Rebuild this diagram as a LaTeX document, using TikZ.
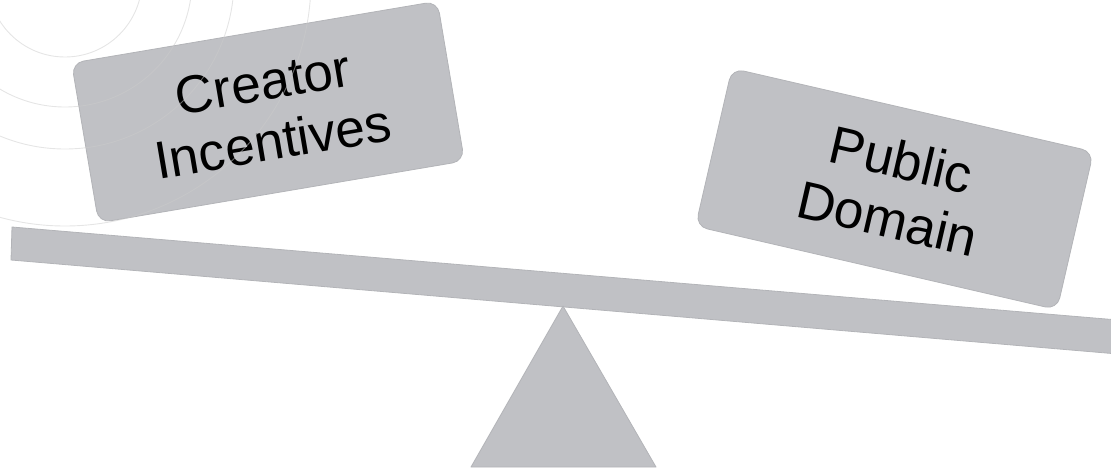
\documentclass[tikz,border=0pt]{standalone}
\usepackage{fontspec}
\setmainfont{Liberation Sans}
\definecolor{boxgray}{HTML}{C0C1C5}
\definecolor{edgegray}{HTML}{B3B4B8}
\definecolor{ringgray}{HTML}{CBCBCB}
\begin{document}
\begin{tikzpicture}[x=1pt,y=-1pt,
  weight/.style={draw=edgegray, line width=0.8pt, fill=boxgray, rounded corners=12pt,
    minimum width=371pt, minimum height=162pt, inner sep=0pt, align=center,
    font=\fontsize{53}{60}\selectfont, text=black},
  plank/.style={draw=edgegray, line width=0.8pt, fill=boxgray},
  ring/.style={draw=ringgray, line width=0.9pt, opacity=0.5}]
\useasboundingbox (0,0) rectangle (1111,471);
\clip (0,0) rectangle (1111,471);
% beam
\coordinate (btl) at (12,227);
\coordinate (btr) at (1112,319.5);
\coordinate (bbr) at (1112,353.5);
\coordinate (bbl) at (11,260);
\draw[plank] (btl) -- (btr) -- (bbr) -- (bbl) -- cycle;
% fulcrum
\coordinate (apex) at (563,306);
\coordinate (fl) at (471,467);
\coordinate (fr) at (656,467);
\draw[plank, line join=round] (apex) -- (fr) -- (fl) -- cycle;
% weights
\node[weight, rotate=9.6] (creator) at (268,112) {Creator\\Incentives};
\node[weight, rotate=-13] (public) at (894.5,189) {Public\\Domain};
% faint rings
\coordinate (rc) at (65,-20);
\foreach \r in {77,127,169,246}{
  \draw[ring] (rc) circle[radius=\r];
}
\end{tikzpicture}
\end{document}
